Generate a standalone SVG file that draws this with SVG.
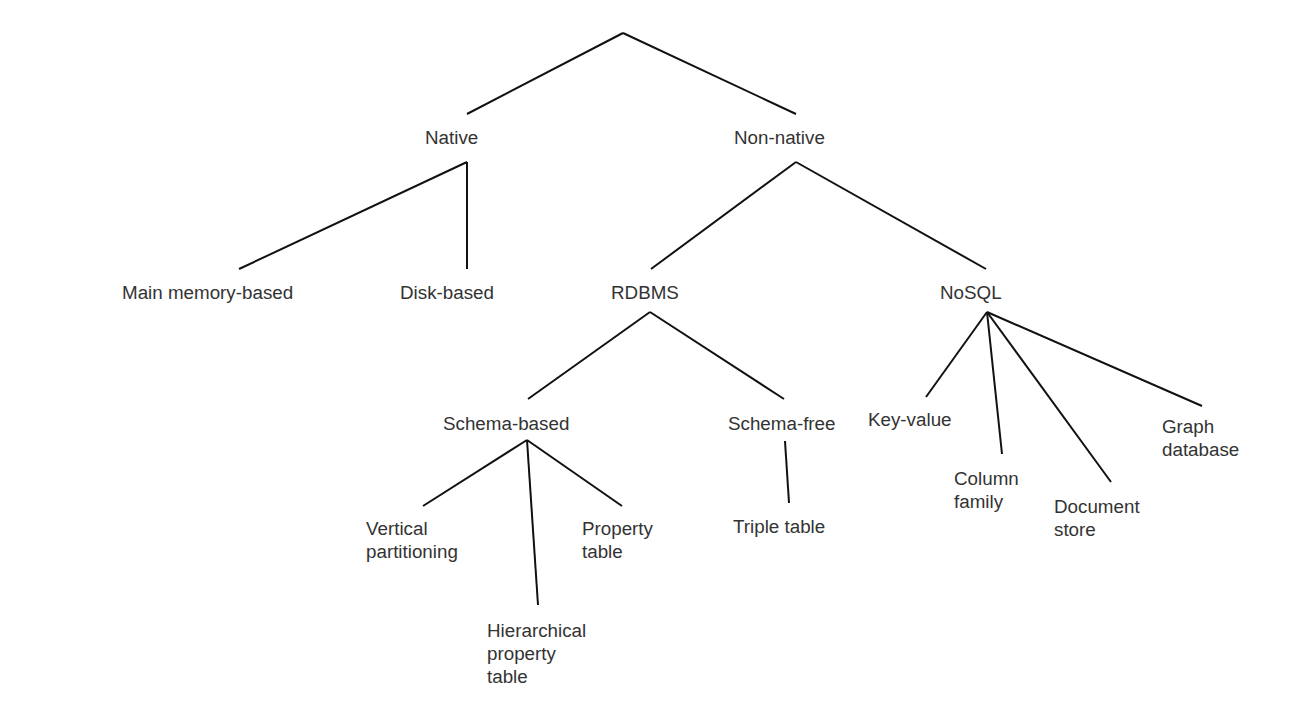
<svg xmlns="http://www.w3.org/2000/svg" width="1297" height="726" viewBox="0 0 1297 726">
<style>
.t{font-family:"Liberation Sans",Arial,sans-serif;font-size:18.8px;fill:#333}
.c line{stroke:#111;stroke-width:2;stroke-linecap:butt}
</style>
<rect width="1297" height="726" fill="#fff"/>
<g class="c" id="connectors">
<line x1="623" y1="33" x2="467" y2="114"/>
<line x1="623" y1="33" x2="796" y2="114"/>
<line x1="467" y1="162" x2="239" y2="269"/>
<line x1="467" y1="162" x2="467" y2="269"/>
<line x1="796" y1="162" x2="651" y2="269"/>
<line x1="796" y1="162" x2="986" y2="269"/>
<line x1="650" y1="312" x2="528" y2="399"/>
<line x1="650" y1="312" x2="784" y2="399"/>
<line x1="527" y1="440" x2="423" y2="506"/>
<line x1="527" y1="440" x2="538" y2="605"/>
<line x1="527" y1="440" x2="622" y2="506"/>
<line x1="785" y1="441" x2="789" y2="503"/>
<line x1="987" y1="312" x2="926" y2="397"/>
<line x1="987" y1="312" x2="1002" y2="454"/>
<line x1="987" y1="312" x2="1111" y2="482"/>
<line x1="987" y1="312" x2="1202" y2="406"/>
</g>
<g id="native"><text class="t" x="425" y="144">Native</text></g>
<g id="non-native"><text class="t" x="734" y="144">Non-native</text></g>
<g id="main-memory"><text class="t" x="122" y="299">Main memory-based</text></g>
<g id="disk"><text class="t" x="400" y="299">Disk-based</text></g>
<g id="rdbms"><text class="t" x="611" y="299">RDBMS</text></g>
<g id="nosql"><text class="t" x="940" y="299">NoSQL</text></g>
<g id="schema-based"><text class="t" x="443" y="430">Schema-based</text></g>
<g id="schema-free"><text class="t" x="728" y="430">Schema-free</text></g>
<g id="vertical"><text class="t" x="366" y="535">Vertical</text><text class="t" x="366" y="558">partitioning</text></g>
<g id="property"><text class="t" x="582" y="535">Property</text><text class="t" x="582" y="558">table</text></g>
<g id="hierarchical"><text class="t" x="487" y="637">Hierarchical</text><text class="t" x="487" y="660">property</text><text class="t" x="487" y="683">table</text></g>
<g id="triple"><text class="t" x="733" y="533">Triple table</text></g>
<g id="key-value"><text class="t" x="868" y="426">Key-value</text></g>
<g id="column"><text class="t" x="954" y="485">Column</text><text class="t" x="954" y="508">family</text></g>
<g id="document"><text class="t" x="1054" y="513">Document</text><text class="t" x="1054" y="536">store</text></g>
<g id="graph"><text class="t" x="1162" y="433">Graph</text><text class="t" x="1162" y="456">database</text></g>
</svg>
